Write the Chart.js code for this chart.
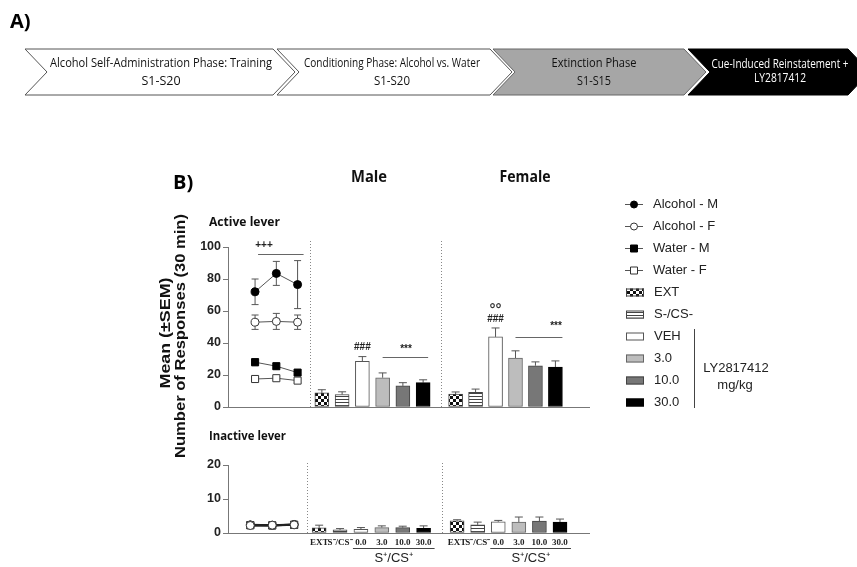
<!DOCTYPE html>
<html lang="en">
<head>
<meta charset="UTF-8">
<title>LY2817412 cue-induced reinstatement</title>
<script src="https://cdn.jsdelivr.net/npm/chart.js@4.4.1/dist/chart.umd.min.js"></script>
<style>
  html, body { margin: 0; padding: 0; background: #fff; }
  #wrap { position: relative; width: 857px; height: 567px; }
  #wrap canvas { position: absolute; left: 0; top: 0; }
</style>
</head>
<body>
<div id="wrap">
  <canvas id="active" width="857" height="567"></canvas>
  <canvas id="inactive" width="857" height="567"></canvas>
</div>

<script>
// ---------------- data ----------------
const phases = [
  ['Alcohol Self-Administration Phase: Training', 'S1-S20'],
  ['Conditioning Phase: Alcohol vs. Water', 'S1-S20'],
  ['Extinction Phase', 'S1-S15'],
  ['Cue-Induced Reinstatement +', 'LY2817412']
];
const lineSeries = ['Alcohol - M', 'Alcohol - F', 'Water - M', 'Water - F'];
const barLegend = ['EXT', 'S-/CS-', 'VEH', '3.0', '10.0', '30.0'];
const barTicks = ['EXT', 'S\u207B/CS\u207B', '0.0', '3.0', '10.0', '30.0'];

// active lever, last 3 training sessions (mean, SEM)
const actAlcM = [72, 83.5, 76.5];
const actAlcMErr = [8, 7.5, 15];
const actAlcF = [53, 53.5, 53];
const actAlcFErr = [4.5, 5, 4.5];
const actWatM = [28, 25.5, 21.5];
const actWatMErr = [2.2, 1.8, 1.2];
const actWatF = [17.5, 18, 16.5];
const actWatFErr = [1, 1, 1.2];

// active lever, reinstatement test
const actMale = [8.8, 7.8, 28.5, 18.3, 13.2, 15.2];
const actMaleErr = [2, 1.7, 3, 3, 2, 1.8];
const actFemale = [8.1, 9.2, 43.8, 30.6, 25.8, 25];
const actFemaleErr = [1.3, 2, 5.6, 4.5, 2.4, 3.8];

// inactive lever
const inaAlcM = [2.4, 2.3, 2.5];
const inaAlcF = [2.2, 2.3, 2.4];
const inaWatM = [2.3, 2.2, 2.4];
const inaWatF = [2.3, 2.3, 2.4];
const inaLineErr = [0.3, 0.3, 0.3];
const inaMale = [1.5, 0.9, 1.1, 1.6, 1.6, 1.4];
const inaMaleErr = [0.8, 0.4, 0.5, 0.5, 0.4, 0.7];
const inaFemale = [3.6, 2.4, 3.3, 3.2, 3.5, 3.2];
const inaFemaleErr = [0.3, 0.8, 0.4, 1.5, 1.2, 0.9];

// ---------------- layout helpers ----------------
const X_LINE = i => 0.35 + i * 1.06;
const X_MALE = i => 3.68 + i * 1.01;
const X_FEMALE = i => 10.35 + i * 0.995;
const SEPARATORS = [3.09, 9.6];

const mainCtx = document.getElementById('active').getContext('2d');

function makeChecker() {
  const c = document.createElement('canvas');
  c.width = 6; c.height = 6;
  const g = c.getContext('2d');
  g.fillStyle = '#fff'; g.fillRect(0, 0, 6, 6);
  g.fillStyle = '#111'; g.fillRect(0, 0, 3, 3); g.fillRect(3, 3, 3, 3);
  return mainCtx.createPattern(c, 'repeat');
}
function makeStripes() {
  const c = document.createElement('canvas');
  c.width = 4; c.height = 3;
  const g = c.getContext('2d');
  g.fillStyle = '#fff'; g.fillRect(0, 0, 4, 3);
  g.fillStyle = '#444'; g.fillRect(0, 0, 4, 1);
  return mainCtx.createPattern(c, 'repeat');
}
const barFills = [makeChecker(), makeStripes(), '#ffffff', '#bdbdbd', '#777777', '#000000'];
const barBorders = ['#444', '#444', '#555', '#666', '#444', '#000'];

Chart.defaults.font.family = '"Liberation Sans", Arial, sans-serif';
Chart.defaults.color = '#222';

function lineSets(vals, errs, thick) {
  return lineSeries.map((name, k) => ({
    type: 'line',
    label: name,
    data: vals[k].map((v, i) => ({ x: X_LINE(i), y: v })),
    errors: errs[k],
    errCap: 3.5,
    borderColor: thick ? '#222' : '#555',
    borderWidth: thick ? 2 : 1,
    pointStyle: k < 2 ? 'circle' : 'rect',
    pointRadius: k < 2 ? 4 : 5,
    pointBackgroundColor: k % 2 === 0 ? '#000' : '#fff',
    pointBorderColor: k % 2 === 0 ? '#000' : '#333',
    pointBorderWidth: 1,
    fill: false,
    tension: 0,
    order: k % 2 === 0 ? 2 : 1
  }));
}

function barSet(label, vals, errs, posFn) {
  return {
    type: 'bar',
    label: label,
    data: vals.map((v, i) => ({ x: posFn(i), y: v })),
    errors: errs,
    errUp: true,
    errCap: 4,
    backgroundColor: barFills,
    borderColor: barBorders,
    borderWidth: 1,
    borderSkipped: false,
    barThickness: 14,
    grouped: false,
    order: 3
  };
}

// error bars, drawn under the marks so markers / bars cover the middle
const errorBars = {
  id: 'errorBars',
  beforeDatasetsDraw(chart) {
    const ctx = chart.ctx, ys = chart.scales.y;
    chart.data.datasets.forEach((ds, di) => {
      if (!ds.errors) return;
      const meta = chart.getDatasetMeta(di);
      meta.data.forEach((el, i) => {
        const v = ds.data[i].y, e = ds.errors[i], cap = ds.errCap;
        const top = ys.getPixelForValue(v + e);
        const bot = ds.errUp ? ys.getPixelForValue(v) : ys.getPixelForValue(v - e);
        ctx.save();
        ctx.strokeStyle = '#555';
        ctx.lineWidth = 1;
        ctx.beginPath();
        ctx.moveTo(el.x, top); ctx.lineTo(el.x, bot);
        ctx.moveTo(el.x - cap, top); ctx.lineTo(el.x + cap, top);
        if (!ds.errUp) { ctx.moveTo(el.x - cap, bot); ctx.lineTo(el.x + cap, bot); }
        ctx.stroke();
        ctx.restore();
      });
    });
  }
};

function txt(ctx, str, x, y, font, color, align, maxW) {
  ctx.save();
  ctx.font = font;
  ctx.fillStyle = color || '#111';
  ctx.textAlign = align || 'center';
  ctx.textBaseline = 'middle';
  if (maxW) ctx.fillText(str, x, y, maxW); else ctx.fillText(str, x, y);
  ctx.restore();
}

function rotatedTxt(ctx, str, cx, cy, font, len) {
  ctx.save();
  ctx.translate(cx, cy);
  ctx.rotate(-Math.PI / 2);
  ctx.font = font;
  const w = ctx.measureText(str).width;
  ctx.scale(len / w, 1);
  ctx.textAlign = 'center';
  ctx.textBaseline = 'middle';
  ctx.fillStyle = '#111';
  ctx.fillText(str, 0, 0);
  ctx.restore();
}

function separators(chart, top) {
  const ctx = chart.ctx, xs = chart.scales.x;
  ctx.save();
  ctx.strokeStyle = '#888';
  ctx.lineWidth = 1;
  ctx.setLineDash([1, 2]);
  SEPARATORS.forEach(v => {
    const px = Math.round(xs.getPixelForValue(v)) + 0.5;
    ctx.beginPath(); ctx.moveTo(px, top); ctx.lineTo(px, chart.chartArea.bottom); ctx.stroke();
  });
  ctx.restore();
}

function hline(ctx, x0, x1, y, color) {
  ctx.save();
  ctx.strokeStyle = color || '#555';
  ctx.lineWidth = 1;
  ctx.beginPath();
  ctx.moveTo(x0, Math.round(y) + 0.5); ctx.lineTo(x1, Math.round(y) + 0.5);
  ctx.stroke();
  ctx.restore();
}

// panel A chevrons
function drawPanelA(ctx) {
  txt(ctx, 'A)', 10, 22, 'bold 20px "Open Sans"', '#000', 'left');
  const boxes = [
    { x0: 25, x1: 273, fill: '#fff', stroke: '#555', color: '#111', cx: 161, w: [222, 40] },
    { x0: 277, x1: 490, fill: '#fff', stroke: '#555', color: '#111', cx: 392, w: [176, 36] },
    { x0: 493, x1: 684, fill: '#a6a6a6', stroke: '#666', color: '#111', cx: 594, w: [85, 34] },
    { x0: 688, x1: 848, fill: '#000', stroke: '#000', color: '#fff', cx: 780, w: [137, 52] }
  ];
  const y0 = 49, y1 = 95, mid = 72, d = 22;
  boxes.forEach((b, i) => {
    ctx.save();
    ctx.beginPath();
    ctx.moveTo(b.x0, y0); ctx.lineTo(b.x1, y0); ctx.lineTo(b.x1 + d, mid);
    ctx.lineTo(b.x1, y1); ctx.lineTo(b.x0, y1); ctx.lineTo(b.x0 + d, mid);
    ctx.closePath();
    ctx.fillStyle = b.fill; ctx.fill();
    ctx.strokeStyle = b.stroke; ctx.lineWidth = 1; ctx.stroke();
    ctx.restore();
    const f = i === 3 ? '12px "Open Sans"' : '12.5px "Open Sans"';
    txt(ctx, phases[i][0], b.cx, i === 3 ? 65 : 63, f, b.color, 'center', b.w[0]);
    txt(ctx, phases[i][1], b.cx, i === 3 ? 79 : 81, f, b.color, 'center', b.w[1]);
  });
}

function drawLegend(ctx) {
  const lx0 = 625, lx1 = 643, mx = 634, tx = 653;
  const rowY = i => 204.5 + i * 22;
  lineSeries.forEach((name, k) => {
    const y = rowY(k);
    hline(ctx, lx0, lx1, y - 0.5, '#555');
    ctx.save();
    ctx.fillStyle = k % 2 === 0 ? '#000' : '#fff';
    ctx.strokeStyle = k % 2 === 0 ? '#000' : '#333';
    ctx.lineWidth = 1;
    ctx.beginPath();
    if (k < 2) ctx.arc(mx, y, 3.5, 0, Math.PI * 2);
    else ctx.rect(mx - 3.5, y - 3.5, 7, 7);
    ctx.fill(); ctx.stroke();
    ctx.restore();
    txt(ctx, name, tx, y, '13px "Liberation Sans"', '#222', 'left');
  });
  barLegend.forEach((name, j) => {
    const y = rowY(j + 4);
    ctx.save();
    ctx.fillStyle = barFills[j];
    ctx.fillRect(626, y - 4, 18, 8);
    ctx.strokeStyle = barBorders[j];
    ctx.lineWidth = 1;
    ctx.strokeRect(626.5, y - 3.5, 17, 7);
    ctx.restore();
    txt(ctx, name, tx + 1, y, '13px "Liberation Sans"', '#222', 'left');
  });
  ctx.save();
  ctx.strokeStyle = '#444';
  ctx.beginPath(); ctx.moveTo(694.5, 329); ctx.lineTo(694.5, 408); ctx.stroke();
  ctx.restore();
  txt(ctx, 'LY2817412', 736, 368, '13px "Liberation Sans"', '#222');
  txt(ctx, 'mg/kg', 735, 385, '13px "Liberation Sans"', '#222');
}

const activeDecor = {
  id: 'activeDecor',
  afterDraw(chart) {
    const ctx = chart.ctx, xs = chart.scales.x, ys = chart.scales.y;
    drawPanelA(ctx);
    txt(ctx, 'B)', 173, 183, 'bold 20px "Open Sans"', '#000', 'left');
    txt(ctx, 'Male', 369, 177, 'bold 16px "Open Sans"', '#111', 'center', 36);
    txt(ctx, 'Female', 525, 177, 'bold 16px "Open Sans"', '#111', 'center', 51);
    txt(ctx, 'Active lever', 209, 222, 'bold 13px "Open Sans"', '#111', 'left', 71);
    txt(ctx, 'Inactive lever', 209, 436, 'bold 13px "Open Sans"', '#111', 'left', 77);
    rotatedTxt(ctx, 'Mean (\u00B1SEM)', 166, 333, 'bold 14px "Liberation Sans"', 111);
    rotatedTxt(ctx, 'Number of Responses (30 min)', 181, 336, 'bold 14px "Liberation Sans"', 244);
    separators(chart, 241);

    // significance marks
    const sig = 'bold 10px "Liberation Sans"';
    hline(ctx, xs.getPixelForValue(X_LINE(0)) + 3, xs.getPixelForValue(X_LINE(2)) + 6, ys.getPixelForValue(95.5), '#666');
    txt(ctx, '+++', 264, 245, sig, '#222');
    const mVeh = xs.getPixelForValue(X_MALE(2));
    txt(ctx, '###', mVeh, ys.getPixelForValue(actMale[2] + actMaleErr[2]) - 9, sig, '#222');
    const mLine = ys.getPixelForValue(31);
    hline(ctx, xs.getPixelForValue(X_MALE(3)), xs.getPixelForValue(X_MALE(5)) + 5, mLine, '#666');
    txt(ctx, '***', 406, mLine - 8, sig, '#222');
    const fVeh = xs.getPixelForValue(X_FEMALE(2));
    const fTop = ys.getPixelForValue(actFemale[2] + actFemaleErr[2]);
    txt(ctx, '###', fVeh, fTop - 9, sig, '#222');
    txt(ctx, '\u00B0\u00B0', fVeh, fTop - 18, 'bold 15px "Liberation Sans"', '#333');
    const fLine = ys.getPixelForValue(44);
    hline(ctx, xs.getPixelForValue(X_FEMALE(3)), xs.getPixelForValue(X_FEMALE(5)) + 7, fLine, '#666');
    txt(ctx, '***', 556, fLine - 10, sig, '#222');

    drawLegend(ctx);
  }
};

const inactiveDecor = {
  id: 'inactiveDecor',
  afterDraw(chart) {
    const ctx = chart.ctx, xs = chart.scales.x;
    separators(chart, 463);
    [X_MALE, X_FEMALE].forEach(fn => {
      const a = xs.getPixelForValue(fn(2)) - 8, b = xs.getPixelForValue(fn(5)) + 11;
      hline(ctx, a, b, 548, '#444');
      txt(ctx, 'S\u207A/CS\u207A', (a + b) / 2, 558, '13px "Liberation Sans"', '#222');
    });
  }
};

function yAxis(max, step) {
  return {
    type: 'linear', min: 0, max: max,
    afterFit: s => { s.width = 40; },
    ticks: { stepSize: step, padding: 2, font: { size: 12.5, weight: 'bold' }, color: '#222' },
    grid: { drawOnChartArea: false, drawTicks: true, tickLength: 5, color: '#777' },
    border: { color: '#777' }
  };
}

function baseOptions(pad, yMax, yStep, showXTicks) {
  return {
    responsive: false,
    animation: false,
    devicePixelRatio: 1,
    layout: { padding: pad },
    plugins: { legend: { display: false }, title: { display: false }, tooltip: { enabled: false } },
    scales: {
      x: {
        type: 'linear', min: 0, max: 16,
        afterFit: s => { s.height = showXTicks ? 20 : 0; },
        afterBuildTicks: showXTicks ? (s => {
          s.ticks = [0, 1, 2, 3, 4, 5].map(X_MALE).concat([0, 1, 2, 3, 4, 5].map(X_FEMALE)).map(v => ({ value: v }));
        }) : undefined,
        ticks: {
          display: showXTicks, autoSkip: false, maxRotation: 0, padding: -4,
          font: { family: '"Liberation Serif", serif', size: 9, weight: 'bold' }, color: '#222',
          callback: (v, i) => barTicks[i % barTicks.length]
        },
        grid: { display: false },
        border: { color: '#777' }
      },
      y: yAxis(yMax, yStep)
    }
  };
}

new Chart(document.getElementById('active'), {
  type: 'bar',
  data: {
    datasets: [
      ...lineSets([actAlcM, actAlcF, actWatM, actWatF], [actAlcMErr, actAlcFErr, actWatMErr, actWatFErr], false),
      barSet('Male', actMale, actMaleErr, X_MALE),
      barSet('Female', actFemale, actFemaleErr, X_FEMALE)
    ]
  },
  options: baseOptions({ left: 188, right: 268, top: 247, bottom: 160 }, 100, 20, false),
  plugins: [errorBars, activeDecor]
});

new Chart(document.getElementById('inactive'), {
  type: 'bar',
  data: {
    datasets: [
      ...lineSets([inaAlcM, inaAlcF, inaWatM, inaWatF], [inaLineErr, inaLineErr, inaLineErr, inaLineErr], true),
      barSet('Male', inaMale, inaMaleErr, X_MALE),
      barSet('Female', inaFemale, inaFemaleErr, X_FEMALE)
    ]
  },
  options: baseOptions({ left: 188, right: 268, top: 465, bottom: 14 }, 20, 10, true),
  plugins: [errorBars, inactiveDecor]
});
</script>
</body>
</html>
